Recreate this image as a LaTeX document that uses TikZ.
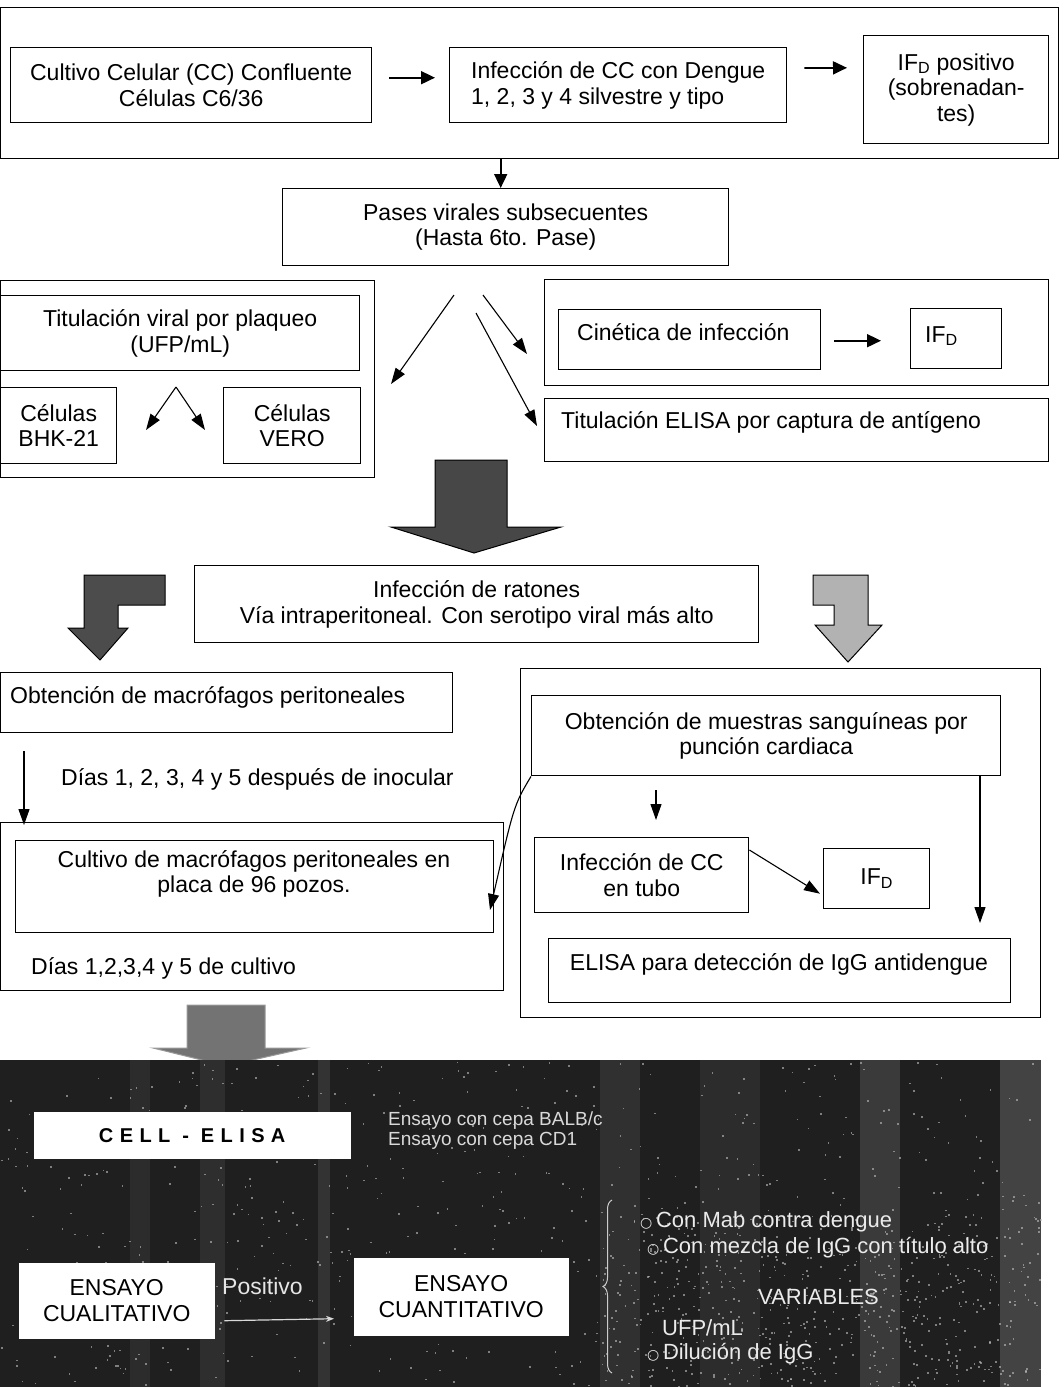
\documentclass[tikz,border=0pt]{standalone}
\usepackage{fontspec}
\setmainfont{Liberation Sans}
\newfontfamily\spacedfont[LetterSpace=32]{Liberation Sans}
\newfontfamily\dejavu{DejaVu Sans}
\usetikzlibrary{arrows.meta,calc,decorations.pathreplacing}
\newcommand\mysz{\fontsize{23}{25.5}\selectfont}
\newcommand\smsz{\fontsize{19}{20}\selectfont}
\newcommand\IFD{IF\textsubscript{D}}
\newcommand\bul{{\dejavu\fontsize{14}{14}\selectfont ○}\,}
\begin{document}
\begin{tikzpicture}[x=1pt,y=-1pt,
 box/.style={draw, line width=1.4pt, inner sep=2pt, align=center, font=\mysz, anchor=north west},
 frame/.style={draw, line width=1.4pt, inner sep=0pt, anchor=north west},
 wbox/.style={fill=white, draw=white, inner sep=2pt, align=center, font=\mysz, anchor=north west},
 txt/.style={font=\mysz, inner sep=0pt, anchor=west},
 arr/.style={line width=1.8pt, -{Triangle[length=14pt,width=13pt]}},
 tarr/.style={line width=1.1pt, -{Triangle[length=16pt,width=11pt]}},
 fat/.style={draw=black, line width=1pt}]
\useasboundingbox (0,0) rectangle (1064,1387);
\fill[white] (0,0) rectangle (1064,1387);

% ---------- top block
\node[frame, minimum width=1058pt, minimum height=151pt] (top) at (0,7) {};
\node[box, minimum width=361pt, minimum height=75pt] (cc) at (10,47) {Cultivo Celular (CC) Confluente\\Células C6/36};
\node[box, minimum width=337pt, minimum height=75pt, align=left] (inf) at (449,47) {Infección de CC con Dengue\\1, 2, 3 y 4 silvestre y tipo};
\node[box, minimum width=185pt, minimum height=108pt] (ifa) at (863,35) {\IFD{} positivo\\(sobrenadan-\\tes)};
\draw[arr, shorten <=17pt, shorten >=14pt] ([yshift=7.5pt]cc.east) -- ([yshift=7.5pt]inf.west);
\draw[arr, shorten <=17pt, shorten >=16pt] ([yshift=17pt]inf.east) -- ([yshift=22pt]ifa.west);

\node[box, minimum width=446pt, minimum height=77pt] (pv) at (282,188) {Pases virales subsecuentes\\(Hasta 6to. Pase)};
\draw[arr] ([xshift=-5pt]pv.north |- top.south) -- ([xshift=-5pt]pv.north);

% ---------- left group
\node[frame, minimum width=374pt, minimum height=197pt] (lf) at (0,280) {};
\node[box, minimum width=359pt, minimum height=75pt] (tv) at (0,295) {Titulación viral por plaqueo\\(UFP/mL)};
\node[box, minimum width=116pt, minimum height=76pt] (bhk) at (0,387) {Células\\BHK-21};
\node[box, minimum width=137pt, minimum height=76pt] (vero) at (223,387) {Células\\VERO};
\coordinate (apex) at (176,387);
\coordinate (tb) at (146,430);
\coordinate (tv2) at (205,430);
\draw[tarr] (apex) -- (tb);
\draw[tarr] (apex) -- (tv2);

% ---------- right group
\node[frame, minimum width=504pt, minimum height=106pt] (rf) at (544,279) {};
\node[box, minimum width=262pt, minimum height=60pt] (cin) at (558,309) {};
\node[txt] at (577,332) {Cinética de infección};
\node[box, minimum width=91pt, minimum height=60pt] (ifb) at (910,308) {};
\node[txt] at (925,336) {\IFD};
\draw[arr, shorten <=13pt, shorten >=29pt] ([yshift=-1pt]cin.east) -- ([yshift=-2pt]ifb.west);
\node[box, minimum width=504pt, minimum height=63pt] (et) at (544,398) {};
\node[txt] at (561,422) {Titulación ELISA por captura de antígeno};

% fan arrows
\coordinate (fa1) at (454,295); \coordinate (fa2) at (391,384);
\coordinate (fb1) at (483,295); \coordinate (fb2) at (527,354);
\coordinate (fc1) at (476,313); \coordinate (fc2) at (537,426);
\draw[tarr] (fa1) -- (fa2);
\draw[tarr] (fb1) -- (fb2);
\draw[tarr] (fc1) -- (fc2);

% big arrow 1
\filldraw[fat, fill=black!72] (435,460) -- (507,460) -- (507,527) -- (561,527) -- (474,553) -- (391,527) -- (435,527) -- cycle;

% ---------- ratones
\node[box, minimum width=564pt, minimum height=77pt] (rat) at (194,565) {Infección de ratones\\Vía intraperitoneal. Con serotipo viral más alto};

% bent arrows
\filldraw[fat, fill=black!70] (165,575) -- (84,575) -- (84,628) -- (68,628) -- (100,660) -- (128,628) -- (118,628) -- (118,605) -- (165,605) -- cycle;
\filldraw[fat, fill=black!30] (813,575) -- (868,575) -- (868,625) -- (882,625) -- (848,662) -- (815,625) -- (834,625) -- (834,605) -- (813,605) -- cycle;

% ---------- left branch
\node[box, minimum width=452pt, minimum height=60pt] (mac) at (0,672) {};
\node[txt] at (10,697) {Obtención de macrófagos peritoneales};
\node[frame, minimum width=503pt, minimum height=168pt] (cf) at (0,822) {};
\node[box, minimum width=478pt, minimum height=92pt] (cm) at (15,840) {};
\node[font=\mysz, align=center, inner sep=0pt] at (254,874) {Cultivo de macrófagos peritoneales en\\placa de 96 pozos.};
\node[txt] at (31,968) {Días 1,2,3,4 y 5 de cultivo};
\draw[tarr] ([xshift=24pt,yshift=-18pt]mac.south west) -- ([xshift=24pt,yshift=-3pt]cf.north west);
\node[txt] at (61,779) {Días 1, 2, 3, 4 y 5 después de inocular};

% ---------- right branch
\node[frame, minimum width=520pt, minimum height=349pt] (rb) at (520,668) {};
\node[box, minimum width=469pt, minimum height=80pt] (ms) at (531,695) {Obtención de muestras sanguíneas por\\punción cardiaca};
\node[box, minimum width=214pt, minimum height=75pt] (tub) at (534,837) {Infección de CC\\en tubo};
\node[box, minimum width=106pt, minimum height=60pt] (ifc) at (823,848) {\IFD};
\node[box, minimum width=462pt, minimum height=64pt] (eig) at (548,938) {};
\node[font=\mysz, inner sep=0pt] at (779,964) {ELISA para detección de IgG antidengue};
\coordinate (cv) at (490,910);
\draw[tarr] (ms.south west) .. controls (514,805) .. (cv);
\coordinate (d1) at (656,790); \coordinate (d2) at (656,820);
\draw[tarr] (d1) -- (d2);
\draw[tarr] ([yshift=-13pt]tub.north east) -- ([xshift=-3pt,yshift=-15pt]ifc.west);
\coordinate (rl) at (980,923);
\draw[tarr] (ms.south -| rl) -- (rl);

% big arrow 2
\filldraw[draw=black!40, line width=1pt, fill=black!55] (187,1005) -- (265,1005) -- (265,1048) -- (306,1048) -- (226,1066) -- (153,1048) -- (187,1048) -- cycle;

% ---------- dark panel
\fill[black!88] (0,1060) rectangle (1041,1387);
\foreach \xa/\xb/\op in {200/225/0.07, 318/330/0.09, 600/640/0.08, 700/760/0.06, 860/900/0.12, 1000/1041/0.16, 130/150/0.06}
  \fill[white, opacity=\op] (\xa,1060) rectangle (\xb,1387);
\pgfmathsetseed{7}
\foreach \i in {1,...,700} {
  \pgfmathsetmacro\rx{520+520*rand}
  \pgfmathsetmacro\ry{1223+162*rand}
  \fill[white!75!black, opacity=0.6] (\rx,\ry) rectangle ++(1.6,1.6);
}
\foreach \i in {1,...,500} {
  \pgfmathsetmacro\rx{820+220*rand}
  \pgfmathsetmacro\ry{1300+86*rand}
  \fill[white!75!black, opacity=0.6] (\rx,\ry) rectangle ++(1.8,1.8);
}
\node[wbox, minimum width=316pt, minimum height=46pt, font={\spacedfont\bfseries\fontsize{20}{22}\selectfont}] (ce) at (34,1112) {CELL - ELISA};
\node[txt, font=\smsz, text=white!85!black] (e1) at (388,1121) {Ensayo con cepa BALB/c};
\node[txt, font=\smsz, text=white!85!black] (e2) at (388,1141) {Ensayo con cepa CD1};
\node[wbox, minimum width=195pt, minimum height=75pt] (cual) at (19,1263) {ENSAYO\\CUALITATIVO};
\node[wbox, minimum width=214pt, minimum height=77pt] (cuan) at (354,1258) {ENSAYO\\CUANTITATIVO};
\node[txt, text=white!90!black] (pos) at (222,1286) {Positivo};
\draw[white!85!black, line width=1.2pt, -{Stealth[length=8pt]}] ([xshift=10pt,yshift=-20pt]cual.east) -- ([xshift=-20pt,yshift=-22pt]cuan.west);
\draw[white!80!black, line width=1pt, decorate, decoration={brace, amplitude=9pt}] (612,1373) -- (612,1200);
\begin{scope}[every node/.style={txt, text=white!92!black, font=\fontsize{22}{24}\selectfont}]
\node (v1) at (640,1222) {\bul Con Mab contra dengue};
\node (v2) at (647,1248) {\bul Con mezcla de IgG con título alto};
\node (v3) at (758,1297) {VARIABLES};
\node (v4) at (662,1328) {UFP/mL};
\node (v5) at (647,1354) {\bul Dilución de IgG};
\end{scope}
\end{tikzpicture}
\end{document}
